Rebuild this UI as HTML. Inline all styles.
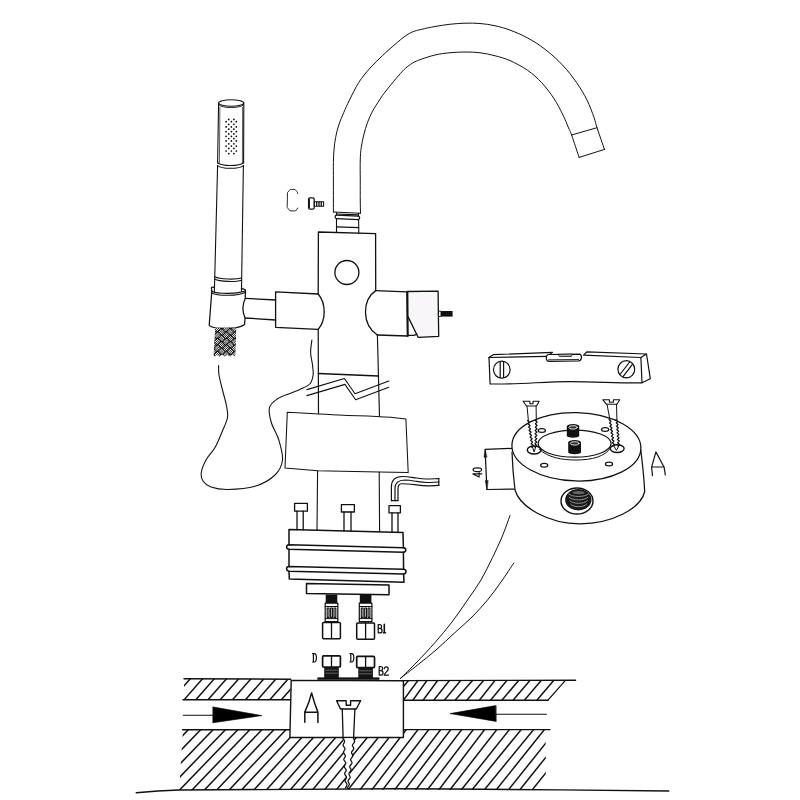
<!DOCTYPE html>
<html><head><meta charset="utf-8"><title>diagram</title>
<style>html,body{margin:0;padding:0;background:#fff;}svg{display:block;}</style></head>
<body>
<svg width="800" height="800" viewBox="0 0 800 800" stroke-linecap="round" stroke-linejoin="round">
<rect width="800" height="800" fill="#fff"/>
<path d="M333.40,212.00 C333.40,210.00 333.40,205.33 333.40,200.00 C333.40,194.67 333.40,186.25 333.40,180.00 C333.40,173.75 333.30,167.50 333.40,162.50 C333.50,157.50 333.63,154.17 334.00,150.00 C334.37,145.83 334.81,141.67 335.60,137.50 C336.39,133.33 337.39,129.17 338.75,125.00 C340.11,120.83 341.96,116.67 343.75,112.50 C345.54,108.33 347.00,105.00 349.50,100.00 C352.00,95.00 355.33,87.82 358.75,82.50 C362.17,77.18 366.04,72.58 370.00,68.10 C373.96,63.62 378.33,59.55 382.50,55.60 C386.67,51.65 391.25,47.62 395.00,44.40 C398.75,41.17 402.08,38.33 405.00,36.25 C407.92,34.17 409.79,33.04 412.50,31.90 C415.21,30.76 417.50,30.30 421.25,29.40 C425.00,28.50 430.21,27.36 435.00,26.50 C439.79,25.64 445.00,24.80 450.00,24.25 C455.00,23.70 460.00,23.32 465.00,23.20 C470.00,23.07 475.00,23.07 480.00,23.50 C485.00,23.93 490.00,24.65 495.00,25.75 C500.00,26.85 504.58,28.08 510.00,30.10 C515.42,32.12 521.67,34.71 527.50,37.90 C533.33,41.09 539.17,44.73 545.00,49.25 C550.83,53.77 557.25,59.46 562.50,65.00 C567.75,70.54 572.42,76.67 576.50,82.50 C580.58,88.33 584.08,94.17 587.00,100.00 C589.92,105.83 592.33,112.88 594.00,117.50 C595.67,122.12 595.25,122.38 597.00,127.70 C598.75,133.02 603.25,145.78 604.50,149.40" fill="none" stroke="#111" stroke-width="1.0" />
<path d="M360.50,213.00 C360.46,210.83 360.29,205.50 360.25,200.00 C360.21,194.50 360.25,186.67 360.25,180.00 C360.25,173.33 360.08,165.42 360.25,160.00 C360.42,154.58 360.67,151.67 361.25,147.50 C361.83,143.33 362.71,139.17 363.75,135.00 C364.79,130.83 366.04,126.46 367.50,122.50 C368.96,118.54 370.50,115.00 372.50,111.25 C374.50,107.50 377.62,102.92 379.50,100.00 C381.38,97.08 381.38,96.88 383.75,93.75 C386.12,90.62 390.62,85.00 393.75,81.25 C396.88,77.50 400.00,73.86 402.50,71.25 C405.00,68.64 406.25,67.38 408.75,65.60 C411.25,63.82 413.12,62.37 417.50,60.60 C421.88,58.83 429.58,56.31 435.00,55.00 C440.42,53.69 445.00,53.25 450.00,52.75 C455.00,52.25 460.00,52.00 465.00,52.00 C470.00,52.00 475.00,52.12 480.00,52.75 C485.00,53.38 490.00,54.44 495.00,55.75 C500.00,57.06 504.58,58.18 510.00,60.60 C515.42,63.02 522.25,66.60 527.50,70.25 C532.75,73.90 537.12,77.83 541.50,82.50 C545.88,87.17 550.25,93.00 553.75,98.25 C557.25,103.50 560.02,109.04 562.50,114.00 C564.98,118.96 567.08,124.50 568.60,128.00 C570.12,131.50 569.85,130.10 571.60,135.00 C573.35,139.90 577.85,153.67 579.10,157.40" fill="none" stroke="#111" stroke-width="1.0" />
<line x1="579.10" y1="157.40" x2="604.50" y2="149.40" stroke="#111" stroke-width="1.0"/>
<line x1="571.60" y1="135.00" x2="597.00" y2="127.70" stroke="#111" stroke-width="1.0"/>
<line x1="333.40" y1="212.00" x2="360.50" y2="213.20" stroke="#111" stroke-width="1.1"/>
<line x1="336.50" y1="212.50" x2="336.50" y2="232.30" stroke="#111" stroke-width="1.1"/>
<line x1="358.50" y1="213.20" x2="358.80" y2="233.30" stroke="#111" stroke-width="1.1"/>
<line x1="336.50" y1="214.00" x2="358.50" y2="214.90" stroke="#111" stroke-width="1.1"/>
<rect x="335.1" y="215.6" width="24.6" height="3.5" rx="1.75" fill="#fff" stroke="#111" stroke-width="1.25" transform="rotate(2.2 347.4 217.3)"/>
<line x1="336.50" y1="226.80" x2="358.70" y2="227.60" stroke="#111" stroke-width="1.2"/>
<path d="M318.20,294.00 L318.40,232.00 L375.60,233.60 L375.70,290.60" fill="none" stroke="#111" stroke-width="1.3" />
<ellipse cx="346.90" cy="272.50" rx="12.00" ry="12.00" fill="none" stroke="#111" stroke-width="1.3"/>
<line x1="318.20" y1="329.40" x2="318.50" y2="413.40" stroke="#111" stroke-width="1.2"/>
<line x1="377.40" y1="335.00" x2="379.50" y2="417.00" stroke="#111" stroke-width="1.15"/>
<line x1="318.50" y1="373.50" x2="378.50" y2="376.00" stroke="#111" stroke-width="1.45"/>
<path d="M318.2,294.0 C326.2,303.5 326.2,320 318.2,329.4" fill="none" stroke="#111" stroke-width="1.3" />
<path d="M375.7,290.6 C361.8,300 361.8,325 377.3,335" fill="none" stroke="#111" stroke-width="1.3" />
<path d="M318.20,294.00 L275.60,291.90 L275.60,327.30 L318.20,329.40" fill="none" stroke="#111" stroke-width="1.3" />
<path d="M275.6,300.0 L245.4,298.4 M245.0,318.0 L275.6,320.0" fill="none" stroke="#111" stroke-width="1.3" />
<path d="M375.70,290.60 L406.90,291.90 L407.50,336.00 L377.30,335.00" fill="none" stroke="#111" stroke-width="1.3" />
<path d="M408.0,291.5 L438.1,291.2 L438.7,336.3 L418.1,337.3 L408.1,316.9" fill="#f8f6f8" stroke="#111" stroke-width="1.3" />
<path d="M407.8,335.4 L413.6,335.4 C415.6,335.2 416.4,334.4 416.8,334.0" fill="none" stroke="#111" stroke-width="1.1" />
<line x1="407.40" y1="291.60" x2="407.80" y2="336.00" stroke="#111" stroke-width="1.9"/>
<rect x="438.80" y="311.20" width="2.20" height="5.20" rx="0" fill="#fff" stroke="#111" stroke-width="0.9"/>
<rect x="441.00" y="311.00" width="11.60" height="5.60" rx="0" fill="#111" stroke="none" stroke-width="0"/>
<path d="M306.90,389.60 L344.40,378.50 L355.00,393.75 L388.75,381.00" fill="none" stroke="#111" stroke-width="1.1" />
<path d="M306.90,395.60 L345.00,384.40 L355.60,399.75 L388.75,387.25" fill="none" stroke="#111" stroke-width="1.1" />
<path d="M287.3,412.3 L285.0,468.0 L317.6,470.7 L379.2,472.1 L408.2,472.5 L405.9,419.0 C395,417.0 370,415.9 347.5,415.4 C330,414.7 300,413.0 287.3,412.3 Z" fill="#fff" stroke="#111" stroke-width="1.05" />
<line x1="317.60" y1="470.70" x2="317.00" y2="530.20" stroke="#111" stroke-width="1.1"/>
<line x1="379.20" y1="472.10" x2="379.60" y2="531.80" stroke="#111" stroke-width="1.1"/>
<path d="M391.4,500.6 L391.4,487.0 C391.4,480.5 395.0,476.6 402.2,476.5 C408,476.5 412,477.4 416.3,478.0 C421,478.7 424,479.0 426.6,479.0 C431,479.0 435,478.7 438.8,478.6" fill="none" stroke="#111" stroke-width="1.2" />
<path d="M395.0,500.6 L395.0,488.2 C395.0,483.0 397.6,480.2 405.0,480.0 C409,480.0 413,480.8 416.3,481.4 C421,482.2 424,482.5 427.0,482.5 C431,482.5 435,482.1 438.8,482.0" fill="none" stroke="#111" stroke-width="1.2" />
<path d="M398.0,500.6 L398.0,489.0 C398.0,485.4 398.8,483.8 401.6,483.75 C407,483.7 412,484.4 416.3,484.9 C421,485.5 424,485.8 427.5,485.8 C431,485.8 435,485.5 438.8,485.4" fill="none" stroke="#111" stroke-width="1.2" />
<line x1="391.40" y1="500.60" x2="398.00" y2="500.60" stroke="#111" stroke-width="1.2"/>
<line x1="438.80" y1="478.60" x2="438.80" y2="485.40" stroke="#111" stroke-width="1.2"/>
<rect x="294.60" y="503.40" width="12.80" height="7.80" rx="0" fill="#fff" stroke="#111" stroke-width="1.3"/>
<line x1="297.00" y1="511.20" x2="297.00" y2="529.70" stroke="#111" stroke-width="1.3"/>
<line x1="303.20" y1="511.20" x2="303.20" y2="529.70" stroke="#111" stroke-width="1.3"/>
<rect x="341.40" y="504.60" width="13.00" height="7.40" rx="0" fill="#fff" stroke="#111" stroke-width="1.3"/>
<line x1="344.00" y1="512.00" x2="344.00" y2="531.00" stroke="#111" stroke-width="1.3"/>
<line x1="351.00" y1="512.00" x2="351.00" y2="531.00" stroke="#111" stroke-width="1.3"/>
<rect x="389.00" y="505.60" width="11.40" height="7.20" rx="0" fill="#fff" stroke="#111" stroke-width="1.3"/>
<line x1="392.00" y1="512.80" x2="392.00" y2="532.20" stroke="#111" stroke-width="1.3"/>
<line x1="398.00" y1="512.80" x2="398.00" y2="532.20" stroke="#111" stroke-width="1.3"/>
<path d="M289.0,544.8 L289.0,529.5 L403.0,532.5 L403.4,547.8" fill="none" stroke="#111" stroke-width="1.5" />
<path d="M289.0,544.8 C285.8,545.0 285.8,549.0 289.0,549.2 L403.4,552.2 C406.6,552.0 406.6,548.0 403.4,547.8 Z" fill="none" stroke="#111" stroke-width="1.5" />
<path d="M289.0,549.2 L289.0,566.5 M403.4,552.2 L403.6,569.2" fill="none" stroke="#111" stroke-width="1.5" />
<path d="M289.0,566.5 C285.8,566.7 285.8,571.0 289.0,571.2 L403.6,574.0 C406.8,573.8 406.8,569.4 403.6,569.2 Z" fill="none" stroke="#111" stroke-width="1.5" />
<path d="M289.0,571.2 L289.3,579.0 L404.0,582.2 L403.6,574.0" fill="none" stroke="#111" stroke-width="1.5" />
<path d="M306.50,583.50 L389.00,585.00 L389.00,594.80 L306.50,593.50 Z" fill="#fff" stroke="#111" stroke-width="1.5" />
<rect x="325.70" y="594.60" width="11.60" height="8.60" rx="0" fill="#111" stroke="none" stroke-width="0"/>
<rect x="325.20" y="603.20" width="12.60" height="18.40" rx="0" fill="#fff" stroke="#111" stroke-width="1.2"/>
<line x1="325.20" y1="606.50" x2="337.80" y2="606.50" stroke="#111" stroke-width="1.0"/>
<line x1="325.20" y1="618.60" x2="337.80" y2="618.60" stroke="#111" stroke-width="1.0"/>
<rect x="327.20" y="608.00" width="1.80" height="9.40" rx="0" fill="#fff" stroke="#111" stroke-width="1.15"/>
<rect x="330.60" y="608.00" width="1.80" height="9.40" rx="0" fill="#fff" stroke="#111" stroke-width="1.15"/>
<rect x="334.00" y="608.00" width="1.80" height="9.40" rx="0" fill="#fff" stroke="#111" stroke-width="1.15"/>
<rect x="322.60" y="622.50" width="17.80" height="16.20" rx="1" fill="#fff" stroke="#111" stroke-width="1.5"/>
<line x1="331.50" y1="622.50" x2="331.50" y2="638.70" stroke="#111" stroke-width="1.3"/>
<rect x="359.80" y="594.60" width="11.60" height="8.60" rx="0" fill="#111" stroke="none" stroke-width="0"/>
<rect x="359.30" y="603.20" width="12.60" height="18.40" rx="0" fill="#fff" stroke="#111" stroke-width="1.2"/>
<line x1="359.30" y1="606.50" x2="371.90" y2="606.50" stroke="#111" stroke-width="1.0"/>
<line x1="359.30" y1="618.60" x2="371.90" y2="618.60" stroke="#111" stroke-width="1.0"/>
<rect x="361.30" y="608.00" width="1.80" height="9.40" rx="0" fill="#fff" stroke="#111" stroke-width="1.15"/>
<rect x="364.70" y="608.00" width="1.80" height="9.40" rx="0" fill="#fff" stroke="#111" stroke-width="1.15"/>
<rect x="368.10" y="608.00" width="1.80" height="9.40" rx="0" fill="#fff" stroke="#111" stroke-width="1.15"/>
<rect x="356.70" y="623.00" width="17.80" height="16.20" rx="1" fill="#fff" stroke="#111" stroke-width="1.5"/>
<line x1="365.60" y1="623.00" x2="365.60" y2="639.20" stroke="#111" stroke-width="1.3"/>
<rect x="322.60" y="655.80" width="17.80" height="11.20" rx="1" fill="#fff" stroke="#111" stroke-width="1.7"/>
<line x1="331.50" y1="655.80" x2="331.50" y2="667.00" stroke="#111" stroke-width="1.3"/>
<rect x="324.20" y="667.00" width="14.60" height="11.20" rx="0" fill="#151515" stroke="none" stroke-width="0"/>
<line x1="325.70" y1="670.20" x2="337.30" y2="670.20" stroke="#999" stroke-width="0.6"/>
<line x1="325.70" y1="673.20" x2="337.30" y2="673.20" stroke="#999" stroke-width="0.6"/>
<rect x="356.70" y="656.40" width="17.80" height="11.20" rx="1" fill="#fff" stroke="#111" stroke-width="1.7"/>
<line x1="365.60" y1="656.40" x2="365.60" y2="667.60" stroke="#111" stroke-width="1.3"/>
<rect x="358.30" y="667.60" width="14.60" height="11.20" rx="0" fill="#151515" stroke="none" stroke-width="0"/>
<line x1="359.80" y1="670.80" x2="371.40" y2="670.80" stroke="#999" stroke-width="0.6"/>
<line x1="359.80" y1="673.80" x2="371.40" y2="673.80" stroke="#999" stroke-width="0.6"/>
<path d="M378.20,624.50 L378.20,632.90 M378.20,624.50 L380.00,624.50 C382.20,624.50 382.20,628.45 380.00,628.45 L378.20,628.45 M380.00,628.45 C382.68,628.45 382.68,632.90 380.00,632.90 L378.20,632.90" fill="none" stroke="#111" stroke-width="1.25" />
<path d="M384.30,624.40 L384.30,632.80 M383.40,632.80 L385.50,632.80" fill="none" stroke="#111" stroke-width="1.6" />
<path d="M379.20,666.60 L379.20,675.00 M379.20,666.60 L381.00,666.60 C383.20,666.60 383.20,670.55 381.00,670.55 L379.20,670.55 M381.00,670.55 C383.68,670.55 383.68,675.00 381.00,675.00 L379.20,675.00" fill="none" stroke="#111" stroke-width="1.25" />
<path d="M384.20,668.65 C384.62,666.13 388.19,666.13 388.19,668.90 C388.19,671.42 384.41,672.68 384.20,675.20 L388.40,675.20" fill="none" stroke="#111" stroke-width="1.25" />
<path d="M313.40,653.60 L313.40,662.00 M312.50,653.60 L314.36,653.60 C317.09,653.60 317.09,662.00 314.36,662.00 L312.50,662.00" fill="none" stroke="#111" stroke-width="1.2" />
<path d="M350.80,653.60 L350.80,662.00 M349.90,653.60 L351.76,653.60 C354.49,653.60 354.49,662.00 351.76,662.00 L349.90,662.00" fill="none" stroke="#111" stroke-width="1.2" />
<ellipse cx="231.20" cy="103.00" rx="12.60" ry="3.30" fill="none" stroke="#111" stroke-width="1.1"/>
<path d="M218.6,103 L217.6,163.0 M243.8,103 L243.6,163.0" fill="none" stroke="#111" stroke-width="1.1" />
<path d="M218.6,104.8 C222,108.6 240,108.6 243.8,104.8" fill="none" stroke="#111" stroke-width="0.9" />
<path d="M219.9,107.4 L219.4,162.6 M242.6,107.4 L242.4,162.6" fill="none" stroke="#333" stroke-width="0.8" />
<path d="M217.6,162.8 C222,166.4 239,166.4 243.6,162.8" fill="none" stroke="#111" stroke-width="1.1" />
<path d="M217.6,165.6 C222,169.2 239,169.2 243.6,165.6" fill="none" stroke="#111" stroke-width="1.1" />
<path d="M217.6,165.6 L214.4,290.6 M243.4,165.6 L241.5,289.0" fill="none" stroke="#111" stroke-width="1.1" />
<path d="M214.7,276.8 C220,279.6 236,279.6 241.6,278.0" fill="none" stroke="#111" stroke-width="1.1" />
<path d="M214.6,279.0 C220,282.0 236,282.0 241.5,280.2" fill="none" stroke="#111" stroke-width="1.1" />
<circle cx="226.10" cy="121.70" r="0.85" fill="#000"/>
<circle cx="226.10" cy="126.90" r="0.85" fill="#000"/>
<circle cx="226.10" cy="131.60" r="0.85" fill="#000"/>
<circle cx="226.10" cy="136.30" r="0.85" fill="#000"/>
<circle cx="226.10" cy="140.90" r="0.85" fill="#000"/>
<circle cx="226.10" cy="146.10" r="0.85" fill="#000"/>
<circle cx="226.10" cy="151.00" r="0.85" fill="#000"/>
<circle cx="231.40" cy="121.70" r="0.85" fill="#000"/>
<circle cx="231.40" cy="126.90" r="0.85" fill="#000"/>
<circle cx="231.40" cy="131.60" r="0.85" fill="#000"/>
<circle cx="231.40" cy="136.30" r="0.85" fill="#000"/>
<circle cx="231.40" cy="140.90" r="0.85" fill="#000"/>
<circle cx="231.40" cy="146.10" r="0.85" fill="#000"/>
<circle cx="231.40" cy="151.00" r="0.85" fill="#000"/>
<circle cx="236.30" cy="121.70" r="0.85" fill="#000"/>
<circle cx="236.30" cy="126.90" r="0.85" fill="#000"/>
<circle cx="236.30" cy="131.60" r="0.85" fill="#000"/>
<circle cx="236.30" cy="136.30" r="0.85" fill="#000"/>
<circle cx="236.30" cy="140.90" r="0.85" fill="#000"/>
<circle cx="236.30" cy="146.10" r="0.85" fill="#000"/>
<circle cx="236.30" cy="151.00" r="0.85" fill="#000"/>
<circle cx="228.75" cy="119.40" r="0.85" fill="#000"/>
<circle cx="228.75" cy="124.30" r="0.85" fill="#000"/>
<circle cx="228.75" cy="129.20" r="0.85" fill="#000"/>
<circle cx="228.75" cy="133.90" r="0.85" fill="#000"/>
<circle cx="228.75" cy="138.60" r="0.85" fill="#000"/>
<circle cx="228.75" cy="143.80" r="0.85" fill="#000"/>
<circle cx="228.75" cy="148.40" r="0.85" fill="#000"/>
<circle cx="228.75" cy="153.60" r="0.85" fill="#000"/>
<circle cx="233.90" cy="119.40" r="0.85" fill="#000"/>
<circle cx="233.90" cy="124.30" r="0.85" fill="#000"/>
<circle cx="233.90" cy="129.20" r="0.85" fill="#000"/>
<circle cx="233.90" cy="133.90" r="0.85" fill="#000"/>
<circle cx="233.90" cy="138.60" r="0.85" fill="#000"/>
<circle cx="233.90" cy="143.80" r="0.85" fill="#000"/>
<circle cx="233.90" cy="148.40" r="0.85" fill="#000"/>
<circle cx="233.90" cy="153.60" r="0.85" fill="#000"/>
<path d="M211.4,287.75 L211.8,291.25 L209.2,325.4 C214,329.6 238,329.6 244.6,324.5 L245.0,318.0 C242.4,312 242.4,304.5 245.2,298.6 L245.5,290.4" fill="#fff" stroke="#111" stroke-width="1.25" />
<path d="M211.8,291.25 C218,294.3 238,294.1 245.5,290.8" fill="none" stroke="#111" stroke-width="1.1" />
<path d="M211.8,292.9 C218,296.3 238,296.1 245.5,292.2" fill="none" stroke="#111" stroke-width="1.1" />
<path d="M211.4,287.75 C211.8,286.9 213,287.0 214.3,287.4 M241.3,288.6 C243.2,288.7 245.2,289.4 245.5,290.4" fill="none" stroke="#111" stroke-width="1.1" />
<path d="M214.46,286 L214.4,291.9 M241.56,286 L241.5,291.2" fill="none" stroke="#111" stroke-width="1.1" />
<defs><clipPath id="cBR"><polygon points="215.0,327.4 236.4,327.4 235.6,355.0 234.6,356.4 232.4,354.6 230.0,356.6 227.4,354.8 224.8,356.6 222.0,354.6 219.4,356.6 216.8,354.8 214.6,356.6 213.4,355.6"/></clipPath></defs>
<path d="M215.00,327.40 L236.40,327.40 L235.40,357.00 L213.40,357.00 Z" fill="#141414" stroke="none" stroke-width="0" clip-path="url(#cBR)"/>
<g clip-path="url(#cBR)" stroke="#ffffff" stroke-width="0.95" stroke-linecap="butt"><line x1="210.40" y1="318.29" x2="213.66" y2="321.55"/><line x1="211.04" y1="317.09" x2="214.86" y2="320.91"/><line x1="212.24" y1="316.45" x2="215.50" y2="319.71"/><line x1="210.40" y1="324.74" x2="213.66" y2="328.00"/><line x1="211.04" y1="323.54" x2="214.86" y2="327.36"/><line x1="212.24" y1="322.90" x2="215.50" y2="326.16"/><line x1="210.40" y1="331.19" x2="213.66" y2="334.45"/><line x1="211.04" y1="329.99" x2="214.86" y2="333.81"/><line x1="212.24" y1="329.35" x2="215.50" y2="332.61"/><line x1="210.40" y1="337.64" x2="213.66" y2="340.90"/><line x1="211.04" y1="336.44" x2="214.86" y2="340.26"/><line x1="212.24" y1="335.80" x2="215.50" y2="339.06"/><line x1="210.40" y1="344.09" x2="213.66" y2="347.35"/><line x1="211.04" y1="342.89" x2="214.86" y2="346.71"/><line x1="212.24" y1="342.25" x2="215.50" y2="345.51"/><line x1="210.40" y1="350.54" x2="213.66" y2="353.80"/><line x1="211.04" y1="349.34" x2="214.86" y2="353.16"/><line x1="212.24" y1="348.70" x2="215.50" y2="351.96"/><line x1="210.40" y1="356.99" x2="213.66" y2="360.25"/><line x1="211.04" y1="355.79" x2="214.86" y2="359.61"/><line x1="212.24" y1="355.15" x2="215.50" y2="358.41"/><line x1="214.75" y1="323.01" x2="218.01" y2="319.75"/><line x1="215.39" y1="324.21" x2="219.21" y2="320.39"/><line x1="216.59" y1="324.85" x2="219.85" y2="321.59"/><line x1="214.75" y1="329.46" x2="218.01" y2="326.20"/><line x1="215.39" y1="330.66" x2="219.21" y2="326.84"/><line x1="216.59" y1="331.30" x2="219.85" y2="328.04"/><line x1="214.75" y1="335.91" x2="218.01" y2="332.65"/><line x1="215.39" y1="337.11" x2="219.21" y2="333.29"/><line x1="216.59" y1="337.75" x2="219.85" y2="334.49"/><line x1="214.75" y1="342.36" x2="218.01" y2="339.10"/><line x1="215.39" y1="343.56" x2="219.21" y2="339.74"/><line x1="216.59" y1="344.20" x2="219.85" y2="340.94"/><line x1="214.75" y1="348.81" x2="218.01" y2="345.55"/><line x1="215.39" y1="350.01" x2="219.21" y2="346.19"/><line x1="216.59" y1="350.65" x2="219.85" y2="347.39"/><line x1="214.75" y1="355.26" x2="218.01" y2="352.00"/><line x1="215.39" y1="356.46" x2="219.21" y2="352.64"/><line x1="216.59" y1="357.10" x2="219.85" y2="353.84"/><line x1="214.75" y1="361.71" x2="218.01" y2="358.45"/><line x1="215.39" y1="362.91" x2="219.21" y2="359.09"/><line x1="216.59" y1="363.55" x2="219.85" y2="360.29"/><line x1="219.10" y1="318.29" x2="222.36" y2="321.55"/><line x1="219.74" y1="317.09" x2="223.56" y2="320.91"/><line x1="220.94" y1="316.45" x2="224.20" y2="319.71"/><line x1="219.10" y1="324.74" x2="222.36" y2="328.00"/><line x1="219.74" y1="323.54" x2="223.56" y2="327.36"/><line x1="220.94" y1="322.90" x2="224.20" y2="326.16"/><line x1="219.10" y1="331.19" x2="222.36" y2="334.45"/><line x1="219.74" y1="329.99" x2="223.56" y2="333.81"/><line x1="220.94" y1="329.35" x2="224.20" y2="332.61"/><line x1="219.10" y1="337.64" x2="222.36" y2="340.90"/><line x1="219.74" y1="336.44" x2="223.56" y2="340.26"/><line x1="220.94" y1="335.80" x2="224.20" y2="339.06"/><line x1="219.10" y1="344.09" x2="222.36" y2="347.35"/><line x1="219.74" y1="342.89" x2="223.56" y2="346.71"/><line x1="220.94" y1="342.25" x2="224.20" y2="345.51"/><line x1="219.10" y1="350.54" x2="222.36" y2="353.80"/><line x1="219.74" y1="349.34" x2="223.56" y2="353.16"/><line x1="220.94" y1="348.70" x2="224.20" y2="351.96"/><line x1="219.10" y1="356.99" x2="222.36" y2="360.25"/><line x1="219.74" y1="355.79" x2="223.56" y2="359.61"/><line x1="220.94" y1="355.15" x2="224.20" y2="358.41"/><line x1="223.45" y1="323.01" x2="226.71" y2="319.75"/><line x1="224.09" y1="324.21" x2="227.91" y2="320.39"/><line x1="225.29" y1="324.85" x2="228.55" y2="321.59"/><line x1="223.45" y1="329.46" x2="226.71" y2="326.20"/><line x1="224.09" y1="330.66" x2="227.91" y2="326.84"/><line x1="225.29" y1="331.30" x2="228.55" y2="328.04"/><line x1="223.45" y1="335.91" x2="226.71" y2="332.65"/><line x1="224.09" y1="337.11" x2="227.91" y2="333.29"/><line x1="225.29" y1="337.75" x2="228.55" y2="334.49"/><line x1="223.45" y1="342.36" x2="226.71" y2="339.10"/><line x1="224.09" y1="343.56" x2="227.91" y2="339.74"/><line x1="225.29" y1="344.20" x2="228.55" y2="340.94"/><line x1="223.45" y1="348.81" x2="226.71" y2="345.55"/><line x1="224.09" y1="350.01" x2="227.91" y2="346.19"/><line x1="225.29" y1="350.65" x2="228.55" y2="347.39"/><line x1="223.45" y1="355.26" x2="226.71" y2="352.00"/><line x1="224.09" y1="356.46" x2="227.91" y2="352.64"/><line x1="225.29" y1="357.10" x2="228.55" y2="353.84"/><line x1="223.45" y1="361.71" x2="226.71" y2="358.45"/><line x1="224.09" y1="362.91" x2="227.91" y2="359.09"/><line x1="225.29" y1="363.55" x2="228.55" y2="360.29"/><line x1="227.80" y1="318.29" x2="231.06" y2="321.55"/><line x1="228.44" y1="317.09" x2="232.26" y2="320.91"/><line x1="229.64" y1="316.45" x2="232.90" y2="319.71"/><line x1="227.80" y1="324.74" x2="231.06" y2="328.00"/><line x1="228.44" y1="323.54" x2="232.26" y2="327.36"/><line x1="229.64" y1="322.90" x2="232.90" y2="326.16"/><line x1="227.80" y1="331.19" x2="231.06" y2="334.45"/><line x1="228.44" y1="329.99" x2="232.26" y2="333.81"/><line x1="229.64" y1="329.35" x2="232.90" y2="332.61"/><line x1="227.80" y1="337.64" x2="231.06" y2="340.90"/><line x1="228.44" y1="336.44" x2="232.26" y2="340.26"/><line x1="229.64" y1="335.80" x2="232.90" y2="339.06"/><line x1="227.80" y1="344.09" x2="231.06" y2="347.35"/><line x1="228.44" y1="342.89" x2="232.26" y2="346.71"/><line x1="229.64" y1="342.25" x2="232.90" y2="345.51"/><line x1="227.80" y1="350.54" x2="231.06" y2="353.80"/><line x1="228.44" y1="349.34" x2="232.26" y2="353.16"/><line x1="229.64" y1="348.70" x2="232.90" y2="351.96"/><line x1="227.80" y1="356.99" x2="231.06" y2="360.25"/><line x1="228.44" y1="355.79" x2="232.26" y2="359.61"/><line x1="229.64" y1="355.15" x2="232.90" y2="358.41"/><line x1="232.15" y1="323.01" x2="235.41" y2="319.75"/><line x1="232.79" y1="324.21" x2="236.61" y2="320.39"/><line x1="233.99" y1="324.85" x2="237.25" y2="321.59"/><line x1="232.15" y1="329.46" x2="235.41" y2="326.20"/><line x1="232.79" y1="330.66" x2="236.61" y2="326.84"/><line x1="233.99" y1="331.30" x2="237.25" y2="328.04"/><line x1="232.15" y1="335.91" x2="235.41" y2="332.65"/><line x1="232.79" y1="337.11" x2="236.61" y2="333.29"/><line x1="233.99" y1="337.75" x2="237.25" y2="334.49"/><line x1="232.15" y1="342.36" x2="235.41" y2="339.10"/><line x1="232.79" y1="343.56" x2="236.61" y2="339.74"/><line x1="233.99" y1="344.20" x2="237.25" y2="340.94"/><line x1="232.15" y1="348.81" x2="235.41" y2="345.55"/><line x1="232.79" y1="350.01" x2="236.61" y2="346.19"/><line x1="233.99" y1="350.65" x2="237.25" y2="347.39"/><line x1="232.15" y1="355.26" x2="235.41" y2="352.00"/><line x1="232.79" y1="356.46" x2="236.61" y2="352.64"/><line x1="233.99" y1="357.10" x2="237.25" y2="353.84"/><line x1="232.15" y1="361.71" x2="235.41" y2="358.45"/><line x1="232.79" y1="362.91" x2="236.61" y2="359.09"/><line x1="233.99" y1="363.55" x2="237.25" y2="360.29"/><line x1="236.50" y1="318.29" x2="239.76" y2="321.55"/><line x1="237.14" y1="317.09" x2="240.96" y2="320.91"/><line x1="238.34" y1="316.45" x2="241.60" y2="319.71"/><line x1="236.50" y1="324.74" x2="239.76" y2="328.00"/><line x1="237.14" y1="323.54" x2="240.96" y2="327.36"/><line x1="238.34" y1="322.90" x2="241.60" y2="326.16"/><line x1="236.50" y1="331.19" x2="239.76" y2="334.45"/><line x1="237.14" y1="329.99" x2="240.96" y2="333.81"/><line x1="238.34" y1="329.35" x2="241.60" y2="332.61"/><line x1="236.50" y1="337.64" x2="239.76" y2="340.90"/><line x1="237.14" y1="336.44" x2="240.96" y2="340.26"/><line x1="238.34" y1="335.80" x2="241.60" y2="339.06"/><line x1="236.50" y1="344.09" x2="239.76" y2="347.35"/><line x1="237.14" y1="342.89" x2="240.96" y2="346.71"/><line x1="238.34" y1="342.25" x2="241.60" y2="345.51"/><line x1="236.50" y1="350.54" x2="239.76" y2="353.80"/><line x1="237.14" y1="349.34" x2="240.96" y2="353.16"/><line x1="238.34" y1="348.70" x2="241.60" y2="351.96"/><line x1="236.50" y1="356.99" x2="239.76" y2="360.25"/><line x1="237.14" y1="355.79" x2="240.96" y2="359.61"/><line x1="238.34" y1="355.15" x2="241.60" y2="358.41"/></g>
<path d="M218.60,365.50 C218.67,367.08 218.35,370.92 219.00,375.00 C219.65,379.08 221.28,385.00 222.50,390.00 C223.72,395.00 225.47,400.42 226.30,405.00 C227.13,409.58 228.22,413.00 227.50,417.50 C226.78,422.00 224.08,427.00 222.00,432.00 C219.92,437.00 217.67,442.83 215.00,447.50 C212.33,452.17 208.28,455.83 206.00,460.00 C203.72,464.17 201.80,469.00 201.30,472.50 C200.80,476.00 201.38,478.58 203.00,481.00 C204.62,483.42 206.92,485.58 211.00,487.00 C215.08,488.42 220.17,489.62 227.50,489.50 C234.83,489.38 247.08,488.72 255.00,486.30 C262.92,483.88 270.42,479.38 275.00,475.00 C279.58,470.62 281.87,465.83 282.50,460.00 C283.13,454.17 280.67,446.25 278.80,440.00 C276.93,433.75 272.85,427.92 271.30,422.50 C269.75,417.08 268.47,411.45 269.50,407.50 C270.53,403.55 274.08,401.15 277.50,398.80 C280.92,396.45 286.25,394.97 290.00,393.40 C293.75,391.83 296.67,391.01 300.00,389.40 C303.33,387.79 307.82,386.15 310.00,383.75 C312.18,381.35 312.68,378.12 313.10,375.00 C313.52,371.88 312.92,368.75 312.50,365.00 C312.08,361.25 310.70,356.67 310.60,352.50 C310.50,348.33 311.68,342.08 311.90,340.00" fill="none" stroke="#111" stroke-width="1.1" />
<path d="M297.8,193.6 C297.6,192.4 297.3,192.0 296.9,191.6 L295.0,189.4 L290.3,189.4 L287.5,192.5 L287.2,207.5 L290.0,210.9 L295.6,210.9 L297.8,208.0" fill="none" stroke="#222" stroke-width="0.95" />
<rect x="308.60" y="197.80" width="5.60" height="11.40" rx="1.4" fill="#fff" stroke="#111" stroke-width="1.3"/>
<line x1="309.20" y1="199.40" x2="309.20" y2="207.60" stroke="#111" stroke-width="1.5"/>
<rect x="314.40" y="201.70" width="9.20" height="4.60" rx="0" fill="#fff" stroke="#111" stroke-width="1.1"/>
<line x1="316.70" y1="202.20" x2="316.70" y2="205.80" stroke="#111" stroke-width="1.3"/>
<line x1="319.00" y1="202.20" x2="319.00" y2="205.80" stroke="#111" stroke-width="1.3"/>
<line x1="321.30" y1="202.20" x2="321.30" y2="205.80" stroke="#111" stroke-width="1.3"/>
<defs><clipPath id="cUL"><polygon points="184.0,678.7 290.7,679.2 290.7,699.9 184.0,699.9"/></clipPath><clipPath id="cUR"><polygon points="403.4,680.4 566.4,680.2 548.6,700.4 403.4,700.4"/></clipPath><clipPath id="cLO"><polygon points="183.0,729.6 290.4,729.6 290.4,737.5 403.4,737.5 403.4,729.5 545.6,729.5 545.9,790 300,789.6 179.0,790.2"/></clipPath></defs>
<g clip-path="url(#cUL)" stroke="#111" stroke-width="1.5" stroke-linecap="butt"><line x1="169.04" y1="702.93" x2="192.96" y2="675.76"/><line x1="181.24" y1="702.93" x2="205.16" y2="675.76"/><line x1="193.04" y1="702.93" x2="216.96" y2="675.76"/><line x1="205.24" y1="702.93" x2="229.16" y2="675.76"/><line x1="217.44" y1="702.93" x2="241.36" y2="675.76"/><line x1="229.74" y1="702.93" x2="253.66" y2="675.76"/><line x1="242.64" y1="702.93" x2="266.56" y2="675.76"/><line x1="254.84" y1="702.93" x2="278.76" y2="675.76"/><line x1="267.04" y1="702.93" x2="290.96" y2="675.76"/><line x1="278.54" y1="702.93" x2="302.46" y2="675.76"/></g>
<g clip-path="url(#cUR)" stroke="#111" stroke-width="1.5" stroke-linecap="butt"><line x1="389.51" y1="703.17" x2="411.09" y2="677.43"/><line x1="401.21" y1="703.17" x2="420.19" y2="677.43"/><line x1="410.78" y1="703.17" x2="429.12" y2="677.43"/><line x1="420.91" y1="703.17" x2="439.89" y2="677.43"/><line x1="431.39" y1="703.17" x2="451.86" y2="677.43"/><line x1="441.95" y1="703.17" x2="463.20" y2="677.43"/><line x1="452.48" y1="703.17" x2="475.23" y2="677.43"/><line x1="464.39" y1="703.17" x2="486.11" y2="677.43"/><line x1="477.06" y1="703.17" x2="497.34" y2="677.43"/><line x1="488.16" y1="703.17" x2="509.34" y2="677.43"/><line x1="499.37" y1="703.17" x2="521.28" y2="677.43"/><line x1="510.57" y1="703.17" x2="532.53" y2="677.43"/><line x1="521.87" y1="703.17" x2="543.78" y2="677.43"/><line x1="534.37" y1="703.17" x2="556.28" y2="677.43"/><line x1="545.48" y1="703.17" x2="568.23" y2="677.43"/></g>
<g clip-path="url(#cLO)" stroke="#111" stroke-width="1.5" stroke-linecap="butt"><line x1="109.31" y1="798.59" x2="184.65" y2="720.72"/><line x1="121.71" y1="798.59" x2="197.01" y2="720.72"/><line x1="134.12" y1="798.59" x2="209.38" y2="720.72"/><line x1="146.52" y1="798.59" x2="221.74" y2="720.72"/><line x1="158.93" y1="798.59" x2="234.11" y2="720.72"/><line x1="171.33" y1="798.59" x2="246.47" y2="720.72"/><line x1="183.78" y1="798.59" x2="258.47" y2="720.72"/><line x1="196.23" y1="798.59" x2="270.47" y2="720.72"/><line x1="208.59" y1="798.59" x2="282.38" y2="720.72"/><line x1="221.04" y1="798.59" x2="294.38" y2="720.72"/><line x1="233.57" y1="798.59" x2="305.76" y2="720.72"/><line x1="246.11" y1="798.59" x2="317.11" y2="720.72"/><line x1="258.64" y1="798.59" x2="328.46" y2="720.72"/><line x1="271.08" y1="798.59" x2="339.73" y2="720.72"/><line x1="282.71" y1="798.59" x2="350.25" y2="720.72"/><line x1="293.34" y1="798.59" x2="359.72" y2="720.72"/><line x1="305.29" y1="798.59" x2="370.35" y2="720.72"/><line x1="317.35" y1="798.59" x2="381.08" y2="720.72"/><line x1="329.30" y1="798.59" x2="391.72" y2="720.72"/><line x1="341.15" y1="798.59" x2="402.26" y2="720.72"/><line x1="353.30" y1="798.59" x2="413.10" y2="720.72"/><line x1="365.11" y1="798.59" x2="424.81" y2="720.72"/><line x1="375.92" y1="798.59" x2="435.54" y2="720.72"/><line x1="387.93" y1="798.59" x2="447.45" y2="720.72"/><line x1="398.14" y1="798.59" x2="457.58" y2="720.72"/><line x1="409.15" y1="798.59" x2="468.50" y2="720.72"/><line x1="420.76" y1="798.59" x2="480.01" y2="720.72"/><line x1="432.17" y1="798.59" x2="491.33" y2="720.72"/><line x1="443.11" y1="798.59" x2="503.70" y2="720.72"/><line x1="454.32" y1="798.59" x2="516.54" y2="720.72"/><line x1="464.86" y1="798.59" x2="528.44" y2="720.72"/><line x1="477.15" y1="798.59" x2="540.85" y2="720.72"/><line x1="489.21" y1="798.59" x2="551.48" y2="720.72"/><line x1="501.42" y1="798.59" x2="563.68" y2="720.72"/><line x1="512.82" y1="798.59" x2="575.08" y2="720.72"/><line x1="525.22" y1="798.59" x2="587.48" y2="720.72"/></g>
<path d="M184.0,678.7 L290.7,679.2" fill="none" stroke="#111" stroke-width="1.4" />
<path d="M183.0,699.8 L290.6,699.8" fill="none" stroke="#111" stroke-width="1.4" />
<path d="M182.6,729.7 L290.4,729.7" fill="none" stroke="#111" stroke-width="1.4" />
<path d="M403.4,680.6 L500,680.4 L575.6,680.2" fill="none" stroke="#111" stroke-width="1.4" />
<path d="M403.4,700.2 L548.1,700.3" fill="none" stroke="#111" stroke-width="1.4" />
<path d="M403.4,729.6 L549.9,729.6" fill="none" stroke="#111" stroke-width="1.4" />
<path d="M136.2,792.75 C150,791.5 165,790.5 178.75,790.0 C220,789.3 300,789.0 395,788.8 C450,788.9 520,789.5 560,789.9 C600,790.3 640,790.7 668.75,791.0" fill="none" stroke="#111" stroke-width="1.4" />
<path d="M291.20,680.40 L403.40,680.80 L403.40,737.50 L289.90,737.50 Z" fill="#fff" stroke="#111" stroke-width="1.4" />
<rect x="317.40" y="677.40" width="62.00" height="2.40" rx="0" fill="#111" stroke="none" stroke-width="0"/>
<line x1="183.20" y1="715.30" x2="214.00" y2="715.30" stroke="#111" stroke-width="1.05"/>
<path d="M213.10,706.90 L261.80,715.60 L213.00,722.80 Z" fill="#000" stroke="#000" stroke-width="0.6" />
<line x1="496.00" y1="714.20" x2="546.40" y2="714.20" stroke="#111" stroke-width="1.05"/>
<path d="M495.80,705.60 L450.00,713.60 L496.00,721.40 Z" fill="#000" stroke="#000" stroke-width="0.6" />
<path d="M304.8,722.2 L304.8,712.1 C307.6,706 310.2,699 311.6,692.9 C313.2,699 315.4,706 317.9,712.1 L317.9,722.6 M304.8,712.3 L317.9,712.3" fill="none" stroke="#111" stroke-width="1.5" />
<path d="M336.6,700.75 L346.2,700.75 L346.2,705.3 L350.6,705.3 L350.6,700.75 L360.6,700.75 L356.25,709.0 L340.5,709.0 Z" fill="#fff" stroke="#111" stroke-width="1.4" />
<path d="M342.25,709.0 L343.1,737.4 M354.9,709.0 L353.6,737.4" fill="none" stroke="#111" stroke-width="1.3" />
<path d="M343.5,738.3 L354.2,738.3 L348.2,788 L346.3,788 Z" fill="#fff" stroke="none"/>
<path d="M342.60,738.00 C342.93,738.60 344.53,740.38 344.60,741.57 C344.67,742.76 342.93,743.95 343.00,745.14 C343.07,746.33 344.93,747.52 345.00,748.71 C345.07,749.90 343.33,751.10 343.40,752.29 C343.47,753.48 345.33,754.67 345.40,755.86 C345.47,757.05 343.73,758.24 343.80,759.43 C343.87,760.62 345.73,761.81 345.80,763.00 C345.87,764.19 344.13,765.38 344.20,766.57 C344.27,767.76 346.13,768.95 346.20,770.14 C346.27,771.33 344.53,772.52 344.60,773.71 C344.67,774.90 346.53,776.10 346.60,777.29 C346.67,778.48 344.93,779.67 345.00,780.86 C345.07,782.05 346.93,783.24 347.00,784.43 C347.07,785.62 345.67,787.40 345.40,788.00" fill="none" stroke="#111" stroke-width="1.25" />
<path d="M353.30,738.00 C353.53,738.60 354.80,740.38 354.66,741.57 C354.51,742.76 352.56,743.95 352.41,745.14 C352.27,746.33 353.92,747.52 353.77,748.71 C353.62,749.90 351.68,751.10 351.53,752.29 C351.38,753.48 353.03,754.67 352.89,755.86 C352.74,757.05 350.79,758.24 350.64,759.43 C350.50,760.62 352.15,761.81 352.00,763.00 C351.85,764.19 349.90,765.38 349.76,766.57 C349.61,767.76 351.26,768.95 351.11,770.14 C350.97,771.33 349.02,772.52 348.87,773.71 C348.72,774.90 350.38,776.10 350.23,777.29 C350.08,778.48 348.13,779.67 347.99,780.86 C347.84,782.05 349.49,783.24 349.34,784.43 C349.20,785.62 347.47,787.40 347.10,788.00" fill="none" stroke="#111" stroke-width="1.25" />
<path d="M510.00,515.50 C508.67,519.08 504.92,530.00 502.00,537.00 C499.08,544.00 496.00,550.33 492.50,557.50 C489.00,564.67 485.17,572.92 481.00,580.00 C476.83,587.08 472.33,593.00 467.50,600.00 C462.67,607.00 457.42,614.92 452.00,622.00 C446.58,629.08 440.83,635.83 435.00,642.50 C429.17,649.17 422.77,656.02 417.00,662.00 C411.23,667.98 403.17,675.67 400.40,678.40" fill="none" stroke="#111" stroke-width="1.0" />
<path d="M513.80,563.00 C511.67,566.17 505.38,575.83 501.00,582.00 C496.62,588.17 492.33,594.17 487.50,600.00 C482.67,605.83 477.42,611.58 472.00,617.00 C466.58,622.42 461.00,627.00 455.00,632.50 C449.00,638.00 442.25,644.58 436.00,650.00 C429.75,655.42 423.43,660.27 417.50,665.00 C411.57,669.73 403.25,676.17 400.40,678.40" fill="none" stroke="#111" stroke-width="1.0" />
<path d="M489.0,357.5 L490.1,383.9 C520,384.6 545,381.4 570,381.6 C600,381.8 620,383.2 642.0,382.8 L640.9,357.5" fill="none" stroke="#111" stroke-width="1.2" />
<path d="M489.0,357.5 L546.2,356.4 M583.6,355.2 L640.9,357.5" fill="none" stroke="#111" stroke-width="1.2" />
<path d="M489.0,357.5 L493.5,354.6 L552.5,352.4 L550.0,354.4 M584.2,354.4 L587.0,351.8 L646.5,354.0 L640.9,357.5" fill="none" stroke="#111" stroke-width="1.2" />
<path d="M646.5,354.0 L650.3,378.7 L642.0,382.8" fill="none" stroke="#111" stroke-width="1.2" />
<path d="M548.4,354.5 C545.4,355.4 545.4,361.3 549.2,361.3 L578.2,361.0 C582.0,361.0 582.2,355.4 580.0,354.2 Z" fill="#fff" stroke="#111" stroke-width="1.2" />
<path d="M548.6,359.8 L578.6,359.5" fill="none" stroke="#111" stroke-width="0.9" />
<path d="M558.6,354.3 L572.4,354.1 L571.2,356.5 L559.8,356.6 Z" fill="#aaa" stroke="#111" stroke-width="0.8" />
<ellipse cx="501.80" cy="369.70" rx="8.30" ry="8.50" fill="none" stroke="#111" stroke-width="1.2"/>
<line x1="500.20" y1="361.80" x2="500.20" y2="377.60" stroke="#111" stroke-width="1.2"/>
<line x1="503.60" y1="361.80" x2="503.60" y2="377.60" stroke="#111" stroke-width="1.2"/>
<ellipse cx="626.30" cy="369.30" rx="8.40" ry="8.60" fill="none" stroke="#111" stroke-width="1.2"/>
<line x1="620.40" y1="374.00" x2="629.60" y2="362.00" stroke="#111" stroke-width="1.2"/>
<line x1="623.20" y1="376.40" x2="632.20" y2="364.60" stroke="#111" stroke-width="1.2"/>
<path d="M511.9,448.4 L485.1,449.4 L486.9,489.5 L514.2,489.1" fill="none" stroke="#111" stroke-width="1.25" />
<path d="M485.15,449.6 L483.9,457.2 L486.8,457.2 Z M486.85,489.3 L485.2,480.6 L488.0,480.6 Z" fill="#111" stroke="#111" stroke-width="0.4" />
<g transform="translate(481.8 477.2) rotate(-90)" fill="none" stroke="#111" stroke-width="1.15"><path d="M3.3,0 L3.3,-8.9 L0.1,-2.7 L4.7,-2.7"/><ellipse cx="7.5" cy="-4.45" rx="1.85" ry="4.3"/></g>
<path d="M512.0,452 C512.6,470 514,482 515.0,490 C520,507 548,523.8 580,523.8 C612,523.8 641,508.5 644.7,491.5 C644.0,478 642.4,463 640.8,450" fill="#fff" stroke="#111" stroke-width="1.25" />
<ellipse cx="576.40" cy="446.80" rx="64.50" ry="34.20" fill="#fff" stroke="#111" stroke-width="1.25" transform="rotate(1.5 576.40 446.80)"/>
<ellipse cx="574.60" cy="443.60" rx="36.50" ry="13.60" fill="none" stroke="#111" stroke-width="1.25"/>
<path d="M539.5,449.5 C548,457.5 562,460.0 576,460.0 C592,460.0 605,456.5 610.5,448.0" fill="none" stroke="#111" stroke-width="1.0" />
<ellipse cx="541.80" cy="430.40" rx="3.60" ry="1.90" fill="none" stroke="#111" stroke-width="1.25"/>
<ellipse cx="605.10" cy="429.40" rx="3.60" ry="1.90" fill="none" stroke="#111" stroke-width="1.25"/>
<ellipse cx="544.20" cy="465.20" rx="3.60" ry="1.90" fill="none" stroke="#111" stroke-width="1.25"/>
<ellipse cx="609.00" cy="464.00" rx="3.60" ry="1.90" fill="none" stroke="#111" stroke-width="1.25"/>
<ellipse cx="534.10" cy="450.00" rx="6.80" ry="4.00" fill="none" stroke="#111" stroke-width="1.4"/>
<ellipse cx="617.20" cy="448.60" rx="6.90" ry="3.90" fill="none" stroke="#111" stroke-width="1.4"/>
<path d="M566.80,426.40 L566.80,436.10 C567.80,438.40 578.20,438.40 579.20,436.10 L579.20,426.40 Z" fill="#111"/>
<ellipse cx="573.00" cy="426.60" rx="6.20" ry="2.70" fill="#111" stroke="none" stroke-width="0"/>
<ellipse cx="573.00" cy="427.40" rx="4.20" ry="1.70" fill="#333" stroke="#f4f4f4" stroke-width="0.9"/>
<path d="M568.20,442.40 L568.20,452.50 C569.20,454.80 580.00,454.80 581.00,452.50 L581.00,442.40 Z" fill="#111"/>
<ellipse cx="574.60" cy="442.60" rx="6.40" ry="2.70" fill="#111" stroke="none" stroke-width="0"/>
<ellipse cx="574.60" cy="443.40" rx="4.40" ry="1.70" fill="#333" stroke="#f4f4f4" stroke-width="0.9"/>
<path d="M523.10,401.30 L529.90,401.30 L529.90,403.70 L533.00,403.70 L533.00,401.30 L539.20,401.30 L536.50,406.00 L526.40,406.00 Z" fill="none" stroke="#111" stroke-width="1.1" />
<path d="M527.00,406.00 L528.40,420.50 M536.10,406.00 L536.30,420.50" fill="none" stroke="#111" stroke-width="1.0" />
<path d="M527.55,420.50 L529.51,422.16 L528.06,423.81 L530.02,425.47 L528.57,427.12 L530.53,428.78 L529.09,430.44 L531.04,432.09 L529.60,433.75 L531.56,435.41 L530.11,437.06 L532.07,438.72 L530.62,440.38 L532.58,442.03 L531.14,443.69 L533.09,445.34 L531.65,447.00" fill="none" stroke="#111" stroke-width="1.25" />
<path d="M535.45,420.50 L537.11,422.16 L535.37,423.81 L537.04,425.47 L535.30,427.12 L536.96,428.78 L535.23,430.44 L536.89,432.09 L535.15,433.75 L536.81,435.41 L535.07,437.06 L536.74,438.72 L535.00,440.38 L536.66,442.03 L534.93,443.69 L536.59,445.34 L534.85,447.00" fill="none" stroke="#111" stroke-width="1.25" />
<path d="M532.50,447.00 L534.10,451.90 L535.70,447.00" fill="none" stroke="#111" stroke-width="1.0" />
<path d="M602.90,399.80 L609.40,399.80 L609.40,402.20 L613.40,402.20 L613.40,399.80 L619.70,399.80 L616.90,404.20 L606.40,404.20 Z" fill="none" stroke="#111" stroke-width="1.1" />
<path d="M607.00,404.20 L609.90,419.70 M616.50,404.20 L616.90,419.70" fill="none" stroke="#111" stroke-width="1.0" />
<path d="M609.05,419.70 L610.99,421.34 L609.54,422.99 L611.48,424.63 L610.02,426.27 L611.97,427.92 L610.51,429.56 L612.46,431.21 L611.00,432.85 L612.94,434.49 L611.49,436.14 L613.43,437.78 L611.97,439.43 L613.92,441.07 L612.46,442.71 L614.41,444.36 L612.95,446.00" fill="none" stroke="#111" stroke-width="1.25" />
<path d="M616.05,419.70 L617.87,421.34 L616.29,422.99 L618.11,424.63 L616.52,426.27 L618.34,427.92 L616.76,429.56 L618.58,431.21 L617.00,432.85 L618.82,434.49 L617.24,436.14 L619.06,437.78 L617.47,439.43 L619.29,441.07 L617.71,442.71 L619.53,444.36 L617.95,446.00" fill="none" stroke="#111" stroke-width="1.25" />
<path d="M613.80,446.00 L616.40,450.40 L618.80,446.00" fill="none" stroke="#111" stroke-width="1.0" />
<ellipse cx="577.00" cy="501.00" rx="16.00" ry="13.00" fill="#fff" stroke="#111" stroke-width="1.4"/>
<ellipse cx="578.30" cy="499.70" rx="13.20" ry="10.70" fill="#1a1a1a" stroke="none" stroke-width="0"/>
<path d="M568.60,494.00 C573.00,497.40 584.00,497.40 588.40,494.00" fill="none" stroke="#b0b0b0" stroke-width="0.8" />
<path d="M569.30,497.40 C573.00,500.80 584.00,500.80 587.80,497.40" fill="none" stroke="#b0b0b0" stroke-width="0.8" />
<path d="M570.00,500.80 C573.00,504.20 584.00,504.20 587.20,500.80" fill="none" stroke="#b0b0b0" stroke-width="0.8" />
<path d="M570.70,504.20 C573.00,507.60 584.00,507.60 586.60,504.20" fill="none" stroke="#b0b0b0" stroke-width="0.8" />
<ellipse cx="578.60" cy="492.60" rx="6.00" ry="1.70" fill="#666" stroke="none" stroke-width="0"/>
<path d="M652.5,475.6 L651.6,467.2 L655.9,451.9 L664.1,467.2 L665.3,475.0 M651.6,467.0 L664.1,466.8" fill="none" stroke="#111" stroke-width="1.2" />
</svg>
</body></html>
